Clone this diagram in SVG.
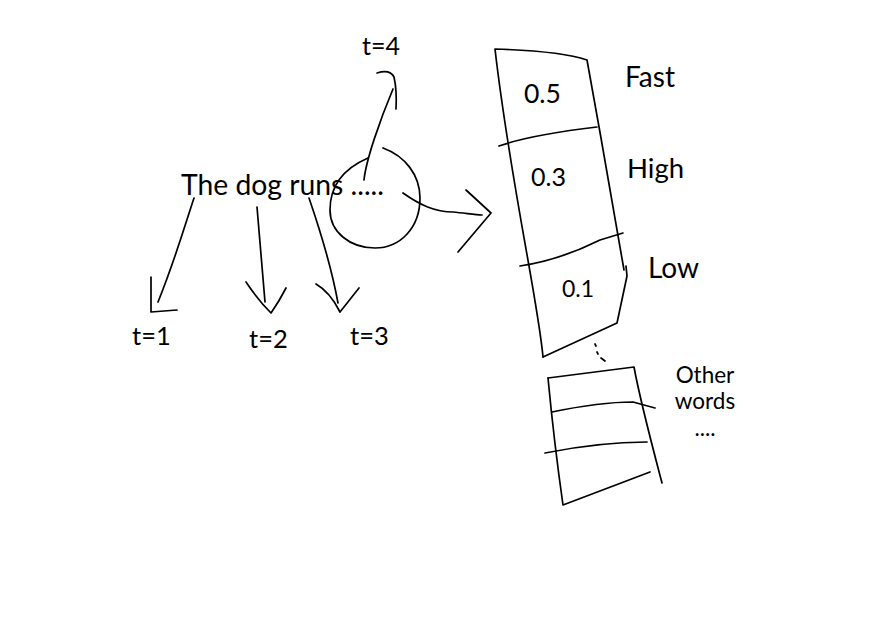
<svg xmlns="http://www.w3.org/2000/svg" width="875" height="621" viewBox="0 0 875 621">
<style>
  .ink { fill: none; stroke: #000; stroke-width: 1.7; stroke-linecap: round; stroke-linejoin: round; }
  .txt { font-family: Lato, "Open Sans", "Liberation Sans", sans-serif; fill: #000; }
</style>
<rect x="0" y="0" width="875" height="621" fill="#fff"/>

<g id="sentence">
  <text class="txt" x="181" y="195" font-size="28.3">The dog runs .....</text>
</g>

<g id="focus-circle">
  <path class="ink" d="M383,148 C405,156 420,175 420,198 C420,228 400,248 375,248 C350,248 330,232 330,210 C330,185 345,168 368,158"/>
</g>

<g id="label-t1"><text class="txt" x="132" y="345" font-size="25.5">t=1</text></g>
<g id="label-t2"><text class="txt" x="249" y="348" font-size="25.5">t=2</text></g>
<g id="label-t3"><text class="txt" x="350" y="345" font-size="25.5">t=3</text></g>
<g id="label-t4"><text class="txt" x="362" y="55" font-size="25">t=4</text></g>

<g id="prob-table">
  <path class="ink" d="M543,357 C538,300 510,180 495,49 Q560,51 587,60 C600,130 615,220 624,270"/>
  <path class="ink" d="M626,266 L627,276 Q622,300 617,323 L543,357"/>
  <path class="ink" d="M499,146 Q530,135 597,127"/>
  <path class="ink" d="M520,266 Q560,260 600,240 L623,233"/>
  <text class="txt" x="524" y="103" font-size="26.5">0.5</text>
  <text class="txt" x="531" y="186" font-size="25">0.3</text>
  <text class="txt" x="562" y="297" font-size="23">0.1</text>
</g>

<g id="ellipsis-gap">
  <path class="ink" d="M595,344 L596,346 M597,352 L598,354 M601,358 L605,361"/>
</g>

<g id="other-table">
  <path class="ink" d="M548,378 L634,367 C640,400 652,445 662,483"/>
  <path class="ink" d="M548,378 C552,420 558,470 563,505 L650,472"/>
  <path class="ink" d="M552,412 Q600,402 633,402 L655,408"/>
  <path class="ink" d="M545,453 Q600,442 647,442"/>
</g>

<g id="word-labels">
  <text class="txt" x="625" y="87" font-size="28">Fast</text>
  <text class="txt" x="627" y="178" font-size="27.5">High</text>
  <text class="txt" x="648" y="278" font-size="28">Low</text>
  <text class="txt" x="705" y="383" font-size="22.5" text-anchor="middle">Other</text>
  <text class="txt" x="705" y="409" font-size="22.5" text-anchor="middle">words</text>
  <text class="txt" x="705" y="436" font-size="22.5" text-anchor="middle">....</text>
</g>

<g id="connectors">
  <path class="ink" d="M194,198 C185,225 175,260 158,302"/>
  <path class="ink" d="M151,277 L151,312 L177,310"/>
  <path class="ink" d="M257,207 L265,302"/>
  <path class="ink" d="M246,282 Q258,300 271,313 Q280,300 286,288"/>
  <path class="ink" d="M309,198 C320,230 332,270 338,303"/>
  <path class="ink" d="M316,284 Q330,292 340,312 L359,288"/>
  <path class="ink" d="M364,180 C366,160 380,120 393,89"/>
  <path class="ink" d="M377,73 Q390,69 394,77 Q397,90 396,109"/>
  <path class="ink" d="M403,193 C420,205 435,212 453,212 C465,213 475,215 482,215"/>
  <path class="ink" d="M466,190 L491,213 L458,252"/>
</g>
</svg>
